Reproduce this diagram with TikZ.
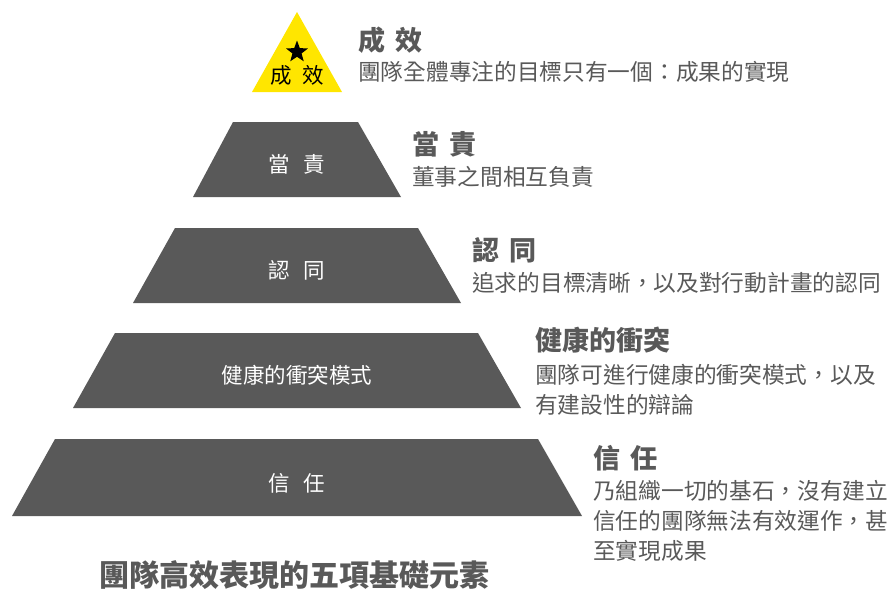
\documentclass[tikz,border=0pt]{standalone}
\usepackage{fontspec}
\setmainfont{Noto Sans CJK TC}
\usetikzlibrary{shapes.geometric}
\definecolor{pyrgray}{HTML}{595959}
\definecolor{pyryellow}{HTML}{FFE600}
\newcommand{\cjkgap}[1][0.4em]{\hspace{#1}}

\begin{document}
\begin{tikzpicture}[x=1pt, y=-1pt,
    level/.style={fill=pyrgray},
    level text/.style={text=white, inner sep=0, font=\fontsize{21.5}{24}\selectfont},
    title node/.style={anchor=west, inner sep=0, text=pyrgray, font=\bfseries\fontsize{27}{30}\selectfont},
    desc node/.style={anchor=north west, inner sep=0, text=pyrgray, align=left, font=\fontsize{22.7}{30}\selectfont}]

    \useasboundingbox (0,0) rectangle (890,590);

    % pyramid
    \fill[pyryellow] (297,12) -- (342,92) -- (252,92) -- cycle;
    \fill[level] (233,122) -- (358,122) -- (401,197) -- (193,197) -- cycle;
    \fill[level] (175,228) -- (418,228) -- (461,303) -- (133,303) -- cycle;
    \fill[level] (115,333) -- (478,333) -- (521,408) -- (73,408) -- cycle;
    \fill[level] (55,439) -- (538,439) -- (582,516) -- (12,516) -- cycle;

    \node[star, star points=5, star point ratio=2.4, fill=black, minimum size=23pt, inner sep=0] (star) at (297,52) {};
    \node[level text, text=black] (peak) at (297,75) {成\cjkgap[0.5em]效};
    \node[level text] (lvA) at (297,164) {當\cjkgap[0.65em]責};
    \node[level text] (lvB) at (297,270) {認\cjkgap[0.65em]同};
    \node[level text] (lvC) at (297,375) {健康的衝突模式};
    \node[level text] (lvD) at (297,483) {信\cjkgap[0.65em]任};

    % side texts
    \node[title node] (resultT) at (358,40) {成\cjkgap 效};
    \node[desc node] (resultD) at (358,61) {團隊全體專注的目標只有一個：成果的實現};

    \node[title node] (accountT) at (412,144) {當\cjkgap 責};
    \node[desc node] (accountD) at (412,166) {董事之間相互負責};

    \node[title node] (commitT) at (472,250) {認\cjkgap 同};
    \node[desc node] (commitD) at (472,272) {追求的目標清晰，以及對行動計畫的認同};

    \node[title node] (conflictT) at (535,340) {健康的衝突};
    \node[desc node] (conflictD) at (535,364) {團隊可進行健康的衝突模式，以及\\有建設性的辯論};

    \node[title node] (trustT) at (593,458) {信\cjkgap 任};
    \node[desc node] (trustD) at (593,480) {乃組織一切的基石，沒有建立\\信任的團隊無法有效運作，甚\\至實現成果};

    \node[text=pyrgray, font=\bfseries\fontsize{30}{32}\selectfont] (caption) at (294,575) {團隊高效表現的五項基礎元素};

\end{tikzpicture}
\end{document}
